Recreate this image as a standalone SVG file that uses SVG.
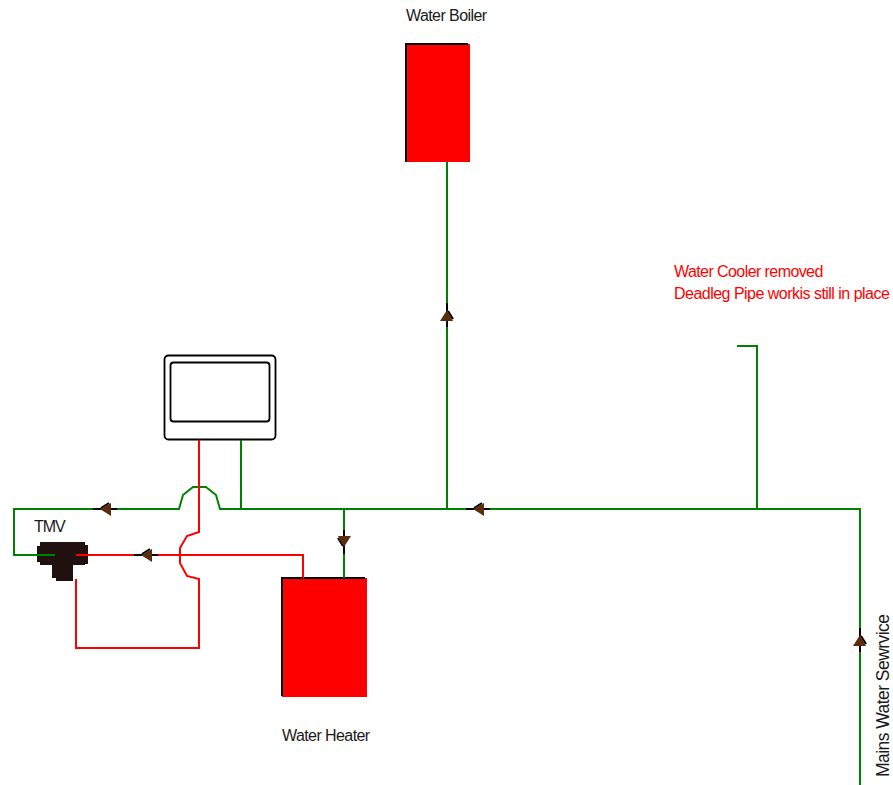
<svg xmlns="http://www.w3.org/2000/svg" width="893" height="785" viewBox="0 0 893 785">
<style>
text{font-family:"Liberation Sans",Arial,sans-serif;font-size:16px;fill:#1a1a1a;letter-spacing:-.58px}
.g{fill:none;stroke:#008000;stroke-width:2}
.r{fill:none;stroke:#ff0000;stroke-width:2}
.tank{fill:#ff0000}
.edge{fill:none;stroke:#000;stroke-width:2}
.stub{stroke:#000;stroke-width:2;fill:none}
.head{fill:#5a2d0c}
</style>
<defs>
<g id="valve-left"><path class="stub" d="M-12 0H12"/><path class="stub" d="M-4 -1L4 -6"/><path class="head" d="M-5 0L6 -6V7Z"/></g>
</defs>
<rect width="893" height="785" fill="#fff"/>
<g id="water-boiler"><rect class="tank" x="406" y="44" width="64" height="118"/><path class="edge" d="M406 162V44H468"/><text x="406" y="21">Water Boiler</text></g>
<g id="water-heater"><rect class="tank" x="282" y="578" width="85" height="119"/><path class="edge" d="M282 696V578H365"/><text x="282" y="741">Water Heater</text></g>
<g id="appliance"><rect x="164.500" y="355.500" width="111" height="84" rx="4" fill="#fff" stroke="#000" stroke-width="1.800"/><rect x="170.500" y="362.500" width="99" height="59" rx="3" fill="#fff" stroke="#000" stroke-width="1.800"/></g>
<g id="tmv"><path fill="#201010" d="M40 542H85V545H88V564H85V565H73V581H56V578H52V565H40V562H37V546H40Z"/><text x="34" y="532" style="letter-spacing:-1.100px">TMV</text></g>
<g id="connectors">
<path class="g" d="M447 162V509"/>
<path class="g" d="M860 785V509H220L216 495L206 487H193L183 495L179 509H14V555H55"/>
<path class="g" d="M241 440V509"/>
<path class="g" d="M344 509V578"/>
<path class="g" d="M757 509V346H737"/>
<path class="r" d="M199 440V532L187 536L180 548V563L187 576L199 579V648H76V579"/>
<path class="r" d="M76 555H303V578"/>
<use href="#valve-left" x="105" y="509"/>
<use href="#valve-left" x="146" y="555"/>
<use href="#valve-left" x="478" y="509"/>
<use href="#valve-left" transform="translate(344 542) rotate(-90)"/>
<use href="#valve-left" transform="translate(447 315) rotate(90)"/>
<use href="#valve-left" transform="translate(860 640) rotate(90)"/>
</g>
<g id="notes"><text x="674" y="277" style="fill:#ff0000">Water Cooler removed</text><text x="674" y="299" style="fill:#ff0000;letter-spacing:-.52px">Deadleg Pipe workis still in place</text><text transform="translate(889 777) rotate(-90)" style="font-size:17.500px;letter-spacing:-.55px">Mains Water Sewrvice</text></g>
</svg>
